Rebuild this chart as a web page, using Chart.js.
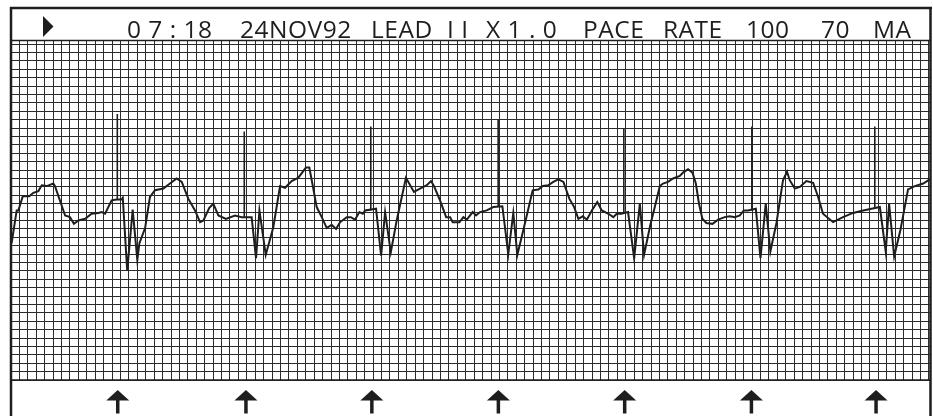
<!DOCTYPE html>
<html>
<head>
<meta charset="utf-8">
<script src="https://cdn.jsdelivr.net/npm/chart.js@4.4.1/dist/chart.umd.min.js"></script>
<style>
  html, body { margin: 0; padding: 0; background: #fff; }
  canvas { display: block; }
</style>
</head>
<body>
<canvas id="ecgChart" width="933" height="416"></canvas>
<script>
// 监护仪心电条带 — 时间(秒) / 电压(mV)
const headerLabels = ['0 7 : 18', '24NOV92', 'LEAD', 'I I', 'X 1 . 0', 'PACE', 'RATE', '100', '70', 'MA'];
const headerX = [127, 240, 371, 447, 486, 583, 663, 746, 821, 873]; // 文字位置 (px)

const traceT = [0.003,0.027,0.035,0.056,0.087,0.106,0.130,0.146,0.170,0.201,0.209,0.257,0.280,0.299,0.320,0.352,0.383,0.415,0.431,0.447,0.478,0.502,
  0.526,0.531,0.552,0.578,0.600,0.610,0.637,0.660,0.684,0.724,0.755,0.787,0.811,0.842,0.874,0.898,0.914,0.942,0.961,0.985,1.021,1.064,1.096,1.143,
  1.164,1.180,1.210,1.246,1.278,1.302,1.333,1.365,1.401,1.417,1.433,1.452,1.476,1.500,1.523,1.544,1.563,1.595,1.614,1.634,1.655,1.671,1.682,
  1.734,1.758,1.777,1.804,1.832,1.876,1.914,1.943,1.975,1.995,2.009,2.038,2.067,2.086,2.098,2.130,2.149,2.165,2.193,2.209,2.228,2.260,2.291,
  2.334,2.362,2.386,2.405,2.434,2.478,2.505,2.526,2.552,2.576,2.600,2.624,2.652,2.675,2.695,2.716,2.735,2.759,2.785,2.806,2.838,2.861,2.877,2.899,
  2.931,2.960,2.987,3.007,3.037,3.058,3.082,3.097,3.121,3.145,3.177,3.192,3.216,3.237,3.253,3.268,3.284,3.303,3.332,3.359,3.390,3.414,3.438,3.462,3.481,3.501,
  3.538,3.560,3.585,3.607,3.636,3.667,3.686,3.699,3.723,3.747,3.778,3.810,3.834,3.857,3.905,3.952,4.000,4.048,
  4.127,4.155,4.171,4.195,4.225,4.261,4.293,4.333,4.364];

const traceMv = [-0.37,0.02,0.02,0.19,0.19,0.23,0.25,0.32,0.31,0.34,0.31,-0.04,-0.06,-0.14,-0.10,-0.08,-0.02,-0.01,0.00,-0.02,0.14,0.15,
  0.15,0.17,-0.70,0.03,-0.57,-0.37,-0.19,0.18,0.26,0.28,0.34,0.40,0.36,0.16,0.02,-0.12,-0.10,0.05,0.10,-0.04,-0.08,-0.04,-0.06,-0.06,
  -0.55,0.02,-0.51,-0.18,0.31,0.29,0.37,0.41,0.53,0.53,0.32,0.06,-0.06,-0.19,-0.15,-0.20,-0.12,-0.06,-0.06,-0.09,0.00,-0.02,0.02,
  0.04,-0.52,0.00,-0.48,-0.10,0.41,0.24,0.28,0.32,0.37,0.31,0.14,-0.06,-0.06,-0.12,-0.12,-0.06,-0.09,0.00,-0.04,0.00,0.02,0.06,
  0.07,-0.50,-0.01,-0.51,-0.21,0.26,0.27,0.31,0.32,0.36,0.39,0.36,0.16,0.06,-0.08,-0.05,-0.09,0.02,0.12,0.02,-0.02,-0.06,-0.02,-0.02,
  0.00,-0.55,0.10,-0.51,-0.15,0.06,0.31,0.34,0.36,0.40,0.43,0.47,0.51,0.47,0.34,0.10,-0.08,-0.13,-0.14,-0.09,-0.06,-0.05,-0.06,-0.04,0.02,0.02,
  0.04,-0.55,0.10,-0.47,-0.13,0.38,0.48,0.38,0.28,0.30,0.37,0.35,0.18,-0.02,-0.12,-0.06,-0.01,0.02,
  0.06,-0.47,0.10,-0.53,-0.21,0.27,0.31,0.34,0.39];

// 起搏脉冲
const spikeT = [0.505, 1.108, 1.709, 2.314, 2.911, 3.519, 4.103];
const spikeBase = [0.15, -0.06, 0.02, 0.07, -0.01, 0.02, 0.05];
const spikeTop = [1.17, 0.96, 1.02, 1.10, 0.99, 1.02, 1.02];

// 底部起搏标记
const paceMarkT = [0.507, 1.116, 1.714, 2.315, 2.915, 3.517, 4.109];

const ink = '#1e1e1e';

const stripDecor = {
  id: 'stripDecor',
  afterDraw(chart) {
    const { ctx, chartArea: a, scales: { x } } = chart;
    ctx.save();
    ctx.strokeStyle = ink;
    ctx.fillStyle = ink;

    // 外框
    ctx.lineWidth = 2.5;
    ctx.beginPath();
    ctx.moveTo(10, 8); ctx.lineTo(932, 8);
    ctx.moveTo(11, 7); ctx.lineTo(11, 416);
    ctx.moveTo(930.5, 7); ctx.lineTo(930.5, 416);
    ctx.stroke();

    // 网格上下边
    ctx.lineWidth = 1.5;
    ctx.beginPath();
    ctx.moveTo(a.left, a.top + 0.5); ctx.lineTo(a.right, a.top + 0.5);
    ctx.moveTo(a.left, a.bottom); ctx.lineTo(a.right, a.bottom);
    ctx.stroke();

    // 三角
    ctx.beginPath();
    ctx.moveTo(43, 16); ctx.lineTo(53.5, 26.5); ctx.lineTo(43, 37);
    ctx.closePath();
    ctx.fill();

    // 标题文字
    ctx.font = '24.5px "Open Sans"';
    ctx.letterSpacing = '0.5px';
    ctx.textBaseline = 'alphabetic';
    ctx.textAlign = 'left';
    headerLabels.forEach((s, i) => ctx.fillText(s, headerX[i], 38));

    // 箭头
    paceMarkT.forEach(t => {
      const px = x.getPixelForValue(t);
      ctx.beginPath();
      ctx.moveTo(px, 390);
      ctx.lineTo(px + 11.5, 400.5);
      ctx.lineTo(px - 11.5, 400.5);
      ctx.closePath();
      ctx.fill();
      ctx.fillRect(px - 1.75, 400, 3.5, 13.5);
    });
    ctx.restore();
  }
};

new Chart(document.getElementById('ecgChart'), {
  type: 'line',
  data: {
    datasets: [{
      label: 'ECG',
      data: traceT.map((t, i) => ({ x: t, y: traceMv[i] })),
      borderColor: ink,
      borderWidth: 2,
      pointRadius: 0,
      tension: 0
    }, {
      label: 'pace',
      data: spikeT.flatMap((t, i) => [{ x: t, y: spikeBase[i] }, { x: t, y: spikeTop[i] }, { x: t, y: null }]),
      borderColor: ink,
      borderWidth: 1.6,
      pointRadius: 0,
      spanGaps: false
    }]
  },
  options: {
    responsive: false,
    devicePixelRatio: 1,
    animation: false,
    layout: { padding: { left: 11, right: 2, top: 40, bottom: 36 } },
    plugins: { legend: { display: false }, tooltip: { enabled: false } },
    scales: {
      x: {
        type: 'linear',
        min: 0,
        max: 4.37,
        ticks: { display: false, stepSize: 0.04, includeBounds: false },
        grid: { color: '#2b2b2b', lineWidth: 1, drawTicks: false },
        border: { display: false }
      },
      y: {
        min: -2,
        max: 2.05,
        ticks: { display: false, stepSize: 0.1, includeBounds: false },
        grid: { color: '#2b2b2b', lineWidth: 1, drawTicks: false },
        border: { display: false }
      }
    }
  },
  plugins: [stripDecor]
});
</script>
</body>
</html>
